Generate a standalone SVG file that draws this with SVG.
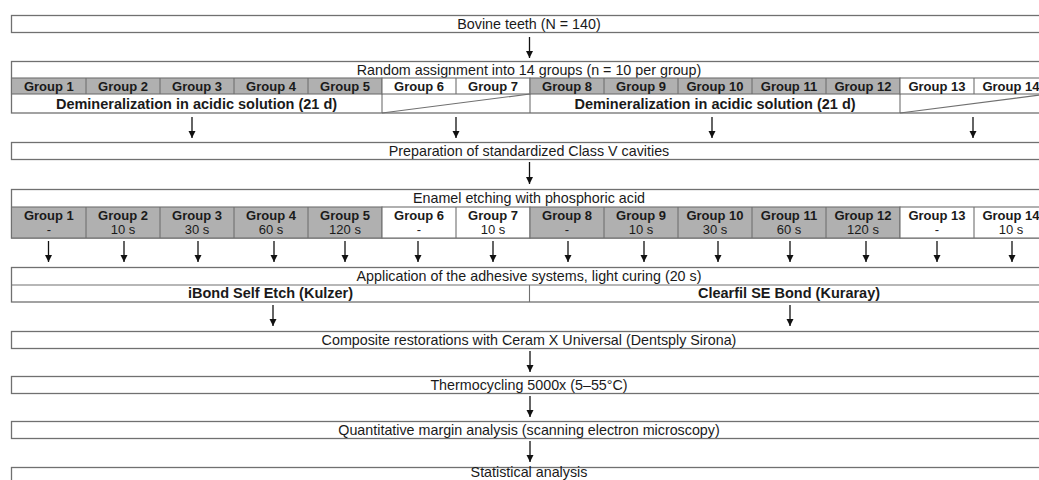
<svg xmlns="http://www.w3.org/2000/svg" width="1039" height="480" viewBox="0 0 1039 480">
<style>
.b{fill:#fff;stroke:#707070;stroke-width:1.3}
.g{fill:#b0b0b0;stroke:#707070;stroke-width:1.1}
.w{fill:#fff;stroke:#707070;stroke-width:1.1}
.ln{stroke:#707070;stroke-width:1.1;fill:none}
text{font-family:"Liberation Sans",Arial,sans-serif;fill:#1a1a1a;text-anchor:middle}
.t{font-size:14.3px}
.tb{font-size:14.5px;font-weight:bold}
.gl{font-size:13px;font-weight:bold}
.tm{font-size:13px}
.ar{stroke:#111;stroke-width:1.3;fill:none}
</style>
<defs>
<marker id="ah" markerWidth="8" markerHeight="8" refX="7" refY="4" orient="auto" markerUnits="userSpaceOnUse" viewBox="0 0 8 8">
<path d="M0,0.5 L7,4 L0,7.5 Z" fill="#111"/>
</marker>
</defs>

<g id="n1">
<rect class="b" x="11.5" y="15.5" width="1040" height="17"/>
<text class="t" x="529" y="29">Bovine teeth (N = 140)</text>
</g>

<g id="n2">
<rect class="b" x="11.5" y="61.5" width="1040" height="51.5"/>
<text class="t" x="529" y="75">Random assignment into 14 groups (n = 10 per group)</text>
<rect class="g" x="11.5" y="78" width="370.5" height="16"/>
<rect class="w" x="382" y="78" width="148" height="16"/>
<rect class="g" x="530" y="78" width="370" height="16"/>
<rect class="w" x="900" y="78" width="152" height="16"/>
<path class="ln" d="M86,78V94M160,78V94M234,78V94M308,78V94M456,78V94M604,78V94M678,78V94M752,78V94M826,78V94M974,78V94"/>
<path class="ln" d="M382,94V113M530,94V113M900,94V113M382,113L530,94M900,113L1048,94"/>
<text class="gl" x="48.8" y="91">Group 1</text>
<text class="gl" x="123" y="91">Group 2</text>
<text class="gl" x="197" y="91">Group 3</text>
<text class="gl" x="271" y="91">Group 4</text>
<text class="gl" x="345" y="91">Group 5</text>
<text class="gl" x="419" y="91">Group 6</text>
<text class="gl" x="493" y="91">Group 7</text>
<text class="gl" x="567" y="91">Group 8</text>
<text class="gl" x="641" y="91">Group 9</text>
<text class="gl" x="715" y="91">Group 10</text>
<text class="gl" x="789" y="91">Group 11</text>
<text class="gl" x="863" y="91">Group 12</text>
<text class="gl" x="937" y="91">Group 13</text>
<text class="gl" x="1011" y="91">Group 14</text>
<text class="tb" x="196.5" y="108.5">Demineralization in acidic solution (21 d)</text>
<text class="tb" x="715" y="108.5">Demineralization in acidic solution (21 d)</text>
</g>

<g id="n3">
<rect class="b" x="11.5" y="142.5" width="1040" height="17"/>
<text class="t" x="529" y="156">Preparation of standardized Class V cavities</text>
</g>

<g id="n4">
<rect class="b" x="11.5" y="189.5" width="1040" height="48.5"/>
<text class="t" x="529" y="203">Enamel etching with phosphoric acid</text>
<rect class="g" x="11.5" y="207" width="370.5" height="31"/>
<rect class="w" x="382" y="207" width="148" height="31"/>
<rect class="g" x="530" y="207" width="370" height="31"/>
<rect class="w" x="900" y="207" width="152" height="31"/>
<path class="ln" d="M86,207V238M160,207V238M234,207V238M308,207V238M456,207V238M604,207V238M678,207V238M752,207V238M826,207V238M974,207V238"/>
<text class="gl" x="48.8" y="220">Group 1</text>
<text class="gl" x="123" y="220">Group 2</text>
<text class="gl" x="197" y="220">Group 3</text>
<text class="gl" x="271" y="220">Group 4</text>
<text class="gl" x="345" y="220">Group 5</text>
<text class="gl" x="419" y="220">Group 6</text>
<text class="gl" x="493" y="220">Group 7</text>
<text class="gl" x="567" y="220">Group 8</text>
<text class="gl" x="641" y="220">Group 9</text>
<text class="gl" x="715" y="220">Group 10</text>
<text class="gl" x="789" y="220">Group 11</text>
<text class="gl" x="863" y="220">Group 12</text>
<text class="gl" x="937" y="220">Group 13</text>
<text class="gl" x="1011" y="220">Group 14</text>
<text class="tm" x="48.8" y="234">-</text>
<text class="tm" x="123" y="234">10 s</text>
<text class="tm" x="197" y="234">30 s</text>
<text class="tm" x="271" y="234">60 s</text>
<text class="tm" x="345" y="234">120 s</text>
<text class="tm" x="419" y="234">-</text>
<text class="tm" x="493" y="234">10 s</text>
<text class="tm" x="567" y="234">-</text>
<text class="tm" x="641" y="234">10 s</text>
<text class="tm" x="715" y="234">30 s</text>
<text class="tm" x="789" y="234">60 s</text>
<text class="tm" x="863" y="234">120 s</text>
<text class="tm" x="937" y="234">-</text>
<text class="tm" x="1011" y="234">10 s</text>
</g>

<g id="n5">
<rect class="b" x="11.5" y="267.5" width="1040" height="34.5"/>
<path class="ln" d="M11.5,285H1052M529.5,285V302"/>
<text class="t" x="529" y="281">Application of the adhesive systems, light curing (20 s)</text>
<text class="tb" x="270.5" y="298">iBond Self Etch (Kulzer)</text>
<text class="tb" x="789" y="298">Clearfil SE Bond (Kuraray)</text>
</g>

<g id="n6">
<rect class="b" x="11.5" y="331.5" width="1040" height="17"/>
<text class="t" x="529" y="345">Composite restorations with Ceram X Universal (Dentsply Sirona)</text>
</g>

<g id="n7">
<rect class="b" x="11.5" y="376.5" width="1040" height="17"/>
<text class="t" x="529" y="390">Thermocycling 5000x (5–55°C)</text>
</g>

<g id="n8">
<rect class="b" x="11.5" y="421.5" width="1040" height="17"/>
<text class="t" x="529" y="435">Quantitative margin analysis (scanning electron microscopy)</text>
</g>

<g id="n9">
<rect class="b" x="11.5" y="467.5" width="1040" height="17"/>
<text class="t" x="529" y="477">Statistical analysis</text>
</g>

<g id="connectors">
<path class="ar" marker-end="url(#ah)" d="M529.5,37V58"/>
<path class="ar" marker-end="url(#ah)" d="M192,117V138"/>
<path class="ar" marker-end="url(#ah)" d="M456,117V138"/>
<path class="ar" marker-end="url(#ah)" d="M712,117V138"/>
<path class="ar" marker-end="url(#ah)" d="M973,117V138"/>
<path class="ar" marker-end="url(#ah)" d="M529.5,162V184"/>
<path class="ar" marker-end="url(#ah)" d="M48.5,241V262"/>
<path class="ar" marker-end="url(#ah)" d="M124,241V262"/>
<path class="ar" marker-end="url(#ah)" d="M198,241V262"/>
<path class="ar" marker-end="url(#ah)" d="M274,241V262"/>
<path class="ar" marker-end="url(#ah)" d="M345,241V262"/>
<path class="ar" marker-end="url(#ah)" d="M418,241V262"/>
<path class="ar" marker-end="url(#ah)" d="M493,241V262"/>
<path class="ar" marker-end="url(#ah)" d="M568,241V262"/>
<path class="ar" marker-end="url(#ah)" d="M644,241V262"/>
<path class="ar" marker-end="url(#ah)" d="M718,241V262"/>
<path class="ar" marker-end="url(#ah)" d="M790,241V262"/>
<path class="ar" marker-end="url(#ah)" d="M866,241V262"/>
<path class="ar" marker-end="url(#ah)" d="M937,241V262"/>
<path class="ar" marker-end="url(#ah)" d="M1012,241V262"/>
<path class="ar" marker-end="url(#ah)" d="M273,305V326"/>
<path class="ar" marker-end="url(#ah)" d="M790,305V326"/>
<path class="ar" marker-end="url(#ah)" d="M530,351V372"/>
<path class="ar" marker-end="url(#ah)" d="M530,396V417"/>
<path class="ar" marker-end="url(#ah)" d="M530,441V462"/>
</g>
</svg>
